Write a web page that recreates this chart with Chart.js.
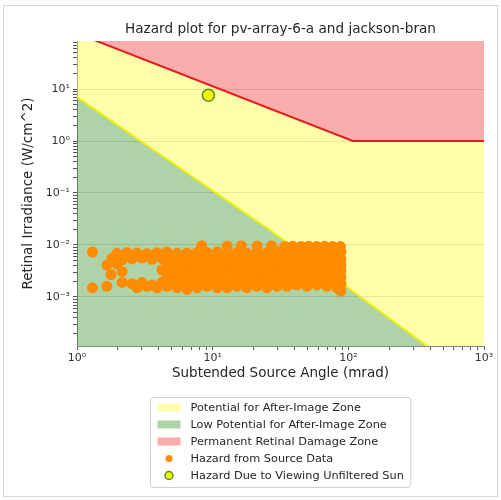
<!DOCTYPE html>
<html><head><meta charset="utf-8">
<script src="https://cdn.jsdelivr.net/npm/chart.js@4/dist/chart.umd.min.js"></script>
<style>
html,body{margin:0;padding:0;background:#fff;}
#wrap{position:absolute;left:0;top:0;width:501px;height:500px;}
#frame{position:absolute;left:3px;top:5px;width:495px;height:492px;border:1px solid #d6d6d6;box-sizing:border-box;pointer-events:none}
canvas{position:absolute;left:0;top:0}
</style></head><body>
<div id="wrap"><canvas id="c" width="501" height="500"></canvas><div id="frame"></div></div>
<script>
const titleText = 'Hazard plot for pv-array-6-a and jackson-bran';
const xAxisTitle = 'Subtended Source Angle (mrad)';
const yAxisTitle = 'Retinal Irradiance (W/cm^2)';
const xTickValues = [1, 10, 100, 1000];
const xTickLabels = ['10⁰', '10¹', '10²', '10³'];
const yTickValues = [0.001, 0.01, 0.1, 1, 10];
const yTickLabels = ['10⁻³', '10⁻²', '10⁻¹', '10⁰', '10¹'];

// Permanent retinal damage threshold (red line)
const burnAngle = [1, 108, 1000];
const burnIrradiance = [118, 1, 1];
// After-image threshold (yellow line)
const afterImageAngle = [1, 26.4, 380, 1000];
const afterImageIrradiance = [7.0, 0.0194, 0.000114, 0.0000177];
// Unfiltered sun
const sunAngle = [9.3];
const sunIrradiance = [7.6];

// Hazard from source data
const sourceAngle = [
 1.30, 1.30, 1.66, 1.66, 1.78,
 8.3, 12.8, 16.3, 21.3, 27.2, 34.1, 38.9, 44.9, 51.0, 58.5, 66.8, 76.5, 87.5,
 1.97, 2.34, 2.77, 3.28, 3.89, 4.60, 5.46, 6.47, 7.66, 9.08, 10.8, 12.8, 15.1, 17.9, 21.2, 25.1, 29.8, 35.3, 41.8, 49.5, 58.7, 69.5, 82.4, 88.2,
 1.81, 2.15, 2.54, 3.01, 3.57, 4.23, 5.01, 5.94, 7.04, 8.34, 9.88, 11.7, 13.9, 16.4, 19.5, 23.1, 27.4, 32.4, 38.4, 45.5, 53.9, 63.9, 75.7, 88.2,
 1.97, 4.60, 5.46, 6.47, 7.66, 9.08, 10.8, 12.8, 15.1, 17.9, 21.2, 25.1, 29.8, 35.3, 41.8, 49.5, 58.7, 69.5, 82.4, 88.2,
 2.15, 4.23, 5.01, 5.94, 7.04, 8.34, 9.88, 11.7, 13.9, 16.4, 19.5, 23.1, 27.4, 32.4, 38.4, 45.5, 53.9, 63.9, 75.7, 88.2,
 4.60, 5.46, 6.47, 7.66, 9.08, 10.8, 12.8, 15.1, 17.9, 21.2, 25.1, 29.8, 35.3, 41.8, 49.5, 58.7, 69.5, 82.4, 88.2,
 2.15, 2.54, 3.01, 3.57, 4.23, 5.01, 5.94, 7.04, 8.34, 9.88, 11.7, 13.9, 16.4, 19.5, 23.1, 27.4, 32.4, 38.4, 45.5, 53.9, 63.9, 75.7, 88.2,
 2.77, 3.28, 3.89, 4.60, 5.46, 6.47, 7.66, 9.08, 10.8, 12.8, 15.1, 17.9, 21.2, 25.1, 29.8, 35.3, 41.8, 49.5, 58.7, 69.5, 82.4,
 88.2, 86.0, 84.0
];
const sourceIrradiance = [
 0.0073, 0.0015, 0.0016, 0.0041, 0.0027,
 0.0097, 0.0096, 0.0097, 0.0096, 0.0097, 0.0094, 0.0095, 0.0094, 0.0095, 0.0094, 0.0095, 0.0094, 0.0093,
 0.0069, 0.0072, 0.0070, 0.0068, 0.0071, 0.0073, 0.0069, 0.0070, 0.0072, 0.0071, 0.0074, 0.0070, 0.0072, 0.0069, 0.0073, 0.0071, 0.0075, 0.0078, 0.0077, 0.0079, 0.0076, 0.0078, 0.0077, 0.0074,
 0.0055, 0.0052, 0.0054, 0.0056, 0.0053, 0.0055, 0.0052, 0.0054, 0.0056, 0.0053, 0.0055, 0.0054, 0.0057, 0.0053, 0.0055, 0.0054, 0.0056, 0.0058, 0.0055, 0.0057, 0.0056, 0.0058, 0.0055, 0.0054,
 0.0043, 0.0042, 0.0040, 0.0043, 0.0041, 0.0042, 0.0040, 0.0043, 0.0041, 0.0042, 0.0044, 0.0041, 0.0043, 0.0042, 0.0044, 0.0041, 0.0043, 0.0042, 0.0044, 0.0041,
 0.0031, 0.0033, 0.0031, 0.0032, 0.0030, 0.0033, 0.0031, 0.0032, 0.0034, 0.0031, 0.0033, 0.0032, 0.0030, 0.0033, 0.0031, 0.0032, 0.0034, 0.0031, 0.0033, 0.0032,
 0.0024, 0.0025, 0.0023, 0.0024, 0.0025, 0.0024, 0.0023, 0.0025, 0.0024, 0.0023, 0.0025, 0.0024, 0.0025, 0.0023, 0.0024, 0.0025, 0.0024, 0.0023, 0.0024,
 0.0019, 0.0018, 0.0019, 0.0017, 0.0019, 0.0018, 0.0019, 0.0018, 0.0019, 0.0018, 0.0019, 0.0018, 0.0019, 0.0018, 0.0019, 0.0018, 0.0019, 0.0018, 0.0019, 0.0019, 0.0020, 0.0019, 0.0018,
 0.0015, 0.0016, 0.0015, 0.0016, 0.0015, 0.0014, 0.0015, 0.0016, 0.0015, 0.0015, 0.0016, 0.0015, 0.0016, 0.0015, 0.0016, 0.0016, 0.0017, 0.0016, 0.0017, 0.0016, 0.0015,
 0.0013, 0.0014, 0.0021
];

const legendOrder = [
 'Potential for After-Image Zone',
 'Low Potential for After-Image Zone',
 'Permanent Retinal Damage Zone',
 'Hazard from Source Data',
 'Hazard Due to Viewing Unfiltered Sun'
];

const FONT = '"DejaVu Sans", "Liberation Sans", sans-serif';
Chart.defaults.font.family = FONT;

const pts = (xs, ys) => xs.map((x, i) => ({x: x, y: ys[i]}));

function logTicks(min, max) {
  const t = [];
  for (let e = Math.floor(Math.log10(min)); e <= Math.ceil(Math.log10(max)); e++) {
    for (let k = 1; k < 10; k++) {
      const v = k * Math.pow(10, e);
      if (v >= min * 0.9999 && v <= max * 1.0001) t.push({value: v});
    }
  }
  return t;
}
function labelFor(values, labels, v) {
  const i = values.findIndex(t => Math.abs(t - v) / t < 1e-6);
  return i >= 0 ? labels[i] : '';
}
function isMajor(values, v) {
  return values.some(t => Math.abs(t - v) / t < 1e-6);
}

const legendBoxPlugin = {
  id: 'legendBox',
  afterDraw(chart) {
    const ctx = chart.ctx;
    const ds = legendOrder.map(l => chart.data.datasets.find(d => d.label === l));
    ctx.save();
    ctx.font = '11.3px ' + FONT;
    let maxW = 0;
    ds.forEach(d => { maxW = Math.max(maxW, ctx.measureText(d.label).width); });
    const rowH = 17, padL = 7, swW = 23, gap = 10;
    const w = padL + swW + gap + maxW + 7;
    const h = 10 + rowH * (ds.length - 1) + 12;
    const ca = chart.chartArea;
    const x0 = Math.round((ca.left + ca.right) / 2 - w / 2) + 0.5;
    const y0 = 397.5;
    ctx.beginPath();
    ctx.roundRect(x0, y0, w, h, 3);
    ctx.fillStyle = 'rgba(255,255,255,0.85)';
    ctx.fill();
    ctx.strokeStyle = '#d0d0d0';
    ctx.lineWidth = 1;
    ctx.stroke();
    ds.forEach((d, i) => {
      const cy = y0 + 10 + rowH * i;
      const sx = x0 + padL;
      if (d.type === 'line') {
        ctx.fillStyle = d.legendColor;
        ctx.fillRect(sx, cy - 4, swW, 8);
      } else {
        ctx.beginPath();
        ctx.arc(sx + swW / 2, cy, d.legendRadius, 0, Math.PI * 2);
        ctx.fillStyle = d.backgroundColor;
        ctx.fill();
        if (d.borderWidth) {
          ctx.lineWidth = d.borderWidth;
          ctx.strokeStyle = d.borderColor;
          ctx.stroke();
        }
      }
      ctx.fillStyle = '#262626';
      ctx.textBaseline = 'middle';
      ctx.textAlign = 'left';
      ctx.fillText(d.label, sx + swW + gap, cy + 0.5);
    });
    ctx.restore();
  }
};

const YELLOW = 'rgba(255,255,0,0.33)';
const GREEN = 'rgba(20,125,0,0.34)';
const PINK = 'rgba(240,0,0,0.32)';

new Chart(document.getElementById('c'), {
  type: 'scatter',
  data: {
    datasets: [
      { label: legendOrder[4], type: 'scatter', data: pts(sunAngle, sunIrradiance),
        backgroundColor: '#f5f50a', borderColor: '#5b8f1e', borderWidth: 1.5, pointRadius: 6, legendRadius: 4, order: 0 },
      { label: legendOrder[3], type: 'scatter', data: pts(sourceAngle, sourceIrradiance),
        backgroundColor: '#ff8c00', borderWidth: 0, pointRadius: 5.5, legendRadius: 3.5, order: 1 },
      { label: legendOrder[1], type: 'line', data: pts(afterImageAngle, afterImageIrradiance),
        borderColor: '#f2f200', borderWidth: 2, backgroundColor: GREEN, legendColor: GREEN, fill: 'start', pointRadius: 0, order: 2 },
      { label: legendOrder[2], type: 'line', data: pts(burnAngle, burnIrradiance),
        borderColor: '#e8191b', borderWidth: 2, backgroundColor: PINK, legendColor: PINK, fill: 'end', pointRadius: 0, order: 3 },
      { label: legendOrder[0], type: 'line', data: pts(burnAngle, burnIrradiance),
        borderWidth: 0, borderColor: 'rgba(0,0,0,0)', backgroundColor: YELLOW, legendColor: YELLOW, fill: 2, pointRadius: 0, order: 4 }
    ]
  },
  options: {
    responsive: false,
    animation: false,
    devicePixelRatio: 1,
    layout: { padding: { left: 10, right: 17, top: 10, bottom: 114 } },
    plugins: {
      legend: { display: false },
      tooltip: { enabled: false },
      title: { display: true, text: titleText, fullSize: false, color: '#262626',
        font: { size: 13.6, weight: 'normal' }, padding: { top: 11.8, bottom: 2.9 } }
    },
    scales: {
      x: {
        type: 'logarithmic', position: 'bottom', min: 1, max: 1000,
        afterBuildTicks: s => { s.ticks = logTicks(1, 1000); },
        afterFit: s => { s.height = 40; s.paddingLeft = 0; s.paddingRight = 0; },
        ticks: { autoSkip: false, maxRotation: 0, color: '#333', font: { size: 11 }, padding: 2,
          callback: v => labelFor(xTickValues, xTickLabels, v) },
        grid: { drawOnChartArea: false, tickLength: 4, tickColor: '#555' },
        border: { display: true, color: '#888', width: 1 },
        title: { display: true, text: xAxisTitle, color: '#262626', font: { size: 13.5 }, padding: { top: 0, bottom: 4.9 } }
      },
      y: {
        type: 'logarithmic', position: 'left', min: 0.000114, max: 83.8,
        afterBuildTicks: s => { s.ticks = logTicks(0.000114, 83.8); },
        afterFit: s => { s.width = 67; s.paddingTop = 0; s.paddingBottom = 0; },
        ticks: { autoSkip: false, color: '#333', font: { size: 11 }, padding: 3,
          callback: v => labelFor(yTickValues, yTickLabels, v) },
        grid: { tickLength: 4, tickColor: '#555',
          color: c => (c.tick && isMajor(yTickValues, c.tick.value)) ? 'rgba(130,130,130,0.28)' : 'rgba(0,0,0,0)' },
        border: { display: true, color: '#888', width: 1 },
        title: { display: true, text: yAxisTitle, color: '#262626', font: { size: 13.5 }, padding: { top: 10.4, bottom: 0 } }
      }
    }
  },
  plugins: [legendBoxPlugin]
});
</script>
</body></html>
